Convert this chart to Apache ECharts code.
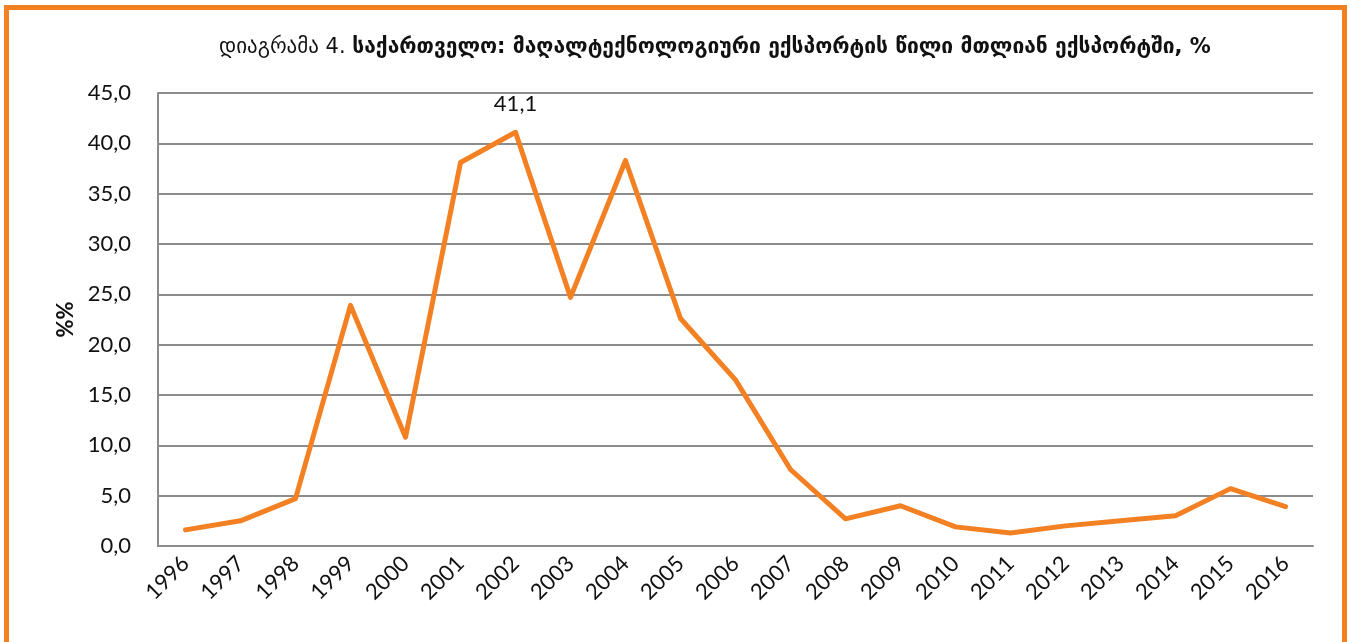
<!DOCTYPE html>
<html>
<head>
<meta charset="utf-8">
<title>დიაგრამა 4</title>
<script src="https://cdn.jsdelivr.net/npm/echarts@6/dist/echarts.min.js"></script>
<style>
    html, body { margin: 0; padding: 0; background: #fff; }
    #chart { width: 1351px; height: 642px; }
</style>
</head>
<body>
<div id="chart"></div>
<script>
    // years on the x axis
    var years = ['1996', '1997', '1998', '1999', '2000', '2001', '2002', '2003', '2004', '2005', '2006',
                 '2007', '2008', '2009', '2010', '2011', '2012', '2013', '2014', '2015', '2016'];
    // high-tech export share, %
    var shareValues = [1.6, 2.5, 4.7, 23.9, 10.8, 38.1, 41.1, 24.7, 38.3, 22.6, 16.5,
                       7.6, 2.7, 4.0, 1.9, 1.3, 2.0, 2.5, 3.0, 5.7, 3.9];
    // only this year gets a value label
    var labelledYear = '2002';

    var titleLead = 'დიაგრამა 4. ';
    var titleMain = 'საქართველო: მაღალტექნოლოგიური ექსპორტის წილი მთლიან ექსპორტში, %';

    var orange = '#F38124';
    var gridGrey = '#8c8c8c';
    var numFont = 'Lato';

    var chart = echarts.init(document.getElementById('chart'));

    var seriesData = shareValues.map(function (v, i) {
        if (years[i] === labelledYear) {
            return {
                value: v,
                label: {
                    show: true,
                    position: 'top',
                    distance: 16,
                    fontFamily: numFont,
                    fontSize: 22,
                    color: '#111',
                    formatter: function (p) { return p.value.toFixed(1).replace('.', ','); }
                }
            };
        }
        return v;
    });

    var option = {
        animation: false,
        backgroundColor: '#fff',
        title: {
            left: 214,
            top: 32,
            text: '{a|' + titleLead + '}{b|' + titleMain + '}',
            textStyle: {
                rich: {
                    a: { fontFamily: 'DejaVu Sans', fontSize: 21, fontWeight: 'normal', color: '#111' },
                    b: { fontFamily: 'DejaVu Sans', fontSize: 21, fontWeight: 'bold', color: '#111' }
                }
            }
        },
        grid: {
            left: 158,
            right: 38,
            top: 93,
            bottom: 96
        },
        graphic: [{
            type: 'rect',
            shape: { x: 6.5, y: 7.5, width: 1338, height: 700 },
            style: { fill: 'none', stroke: orange, lineWidth: 5 },
            silent: true
        }],
        xAxis: {
            type: 'category',
            data: years,
            boundaryGap: true,
            axisLine: { show: true, lineStyle: { color: gridGrey, width: 2 } },
            axisTick: { show: false },
            axisLabel: {
                rotate: 45,
                interval: 0,
                margin: 14,
                fontFamily: numFont,
                fontSize: 22,
                color: '#111'
            }
        },
        yAxis: {
            type: 'value',
            min: 0,
            max: 45,
            interval: 5,
            name: '%%',
            nameLocation: 'middle',
            nameGap: 76,
            nameTextStyle: { fontFamily: numFont, fontSize: 22, fontWeight: 'bold', color: '#111' },
            axisLine: { show: true, lineStyle: { color: gridGrey, width: 2 } },
            axisTick: { show: false },
            splitLine: { lineStyle: { color: gridGrey, width: 2 } },
            axisLabel: {
                margin: 27,
                fontFamily: numFont,
                fontSize: 22,
                color: '#111',
                formatter: function (v) { return v.toFixed(1).replace('.', ','); }
            }
        },
        series: [{
            type: 'line',
            data: seriesData,
            symbol: 'circle',
            symbolSize: 2,
            showSymbol: true,
            itemStyle: { color: orange },
            lineStyle: { color: orange, width: 5, cap: 'round', join: 'round' }
        }]
    };

    chart.setOption(option);
</script>
</body>
</html>
